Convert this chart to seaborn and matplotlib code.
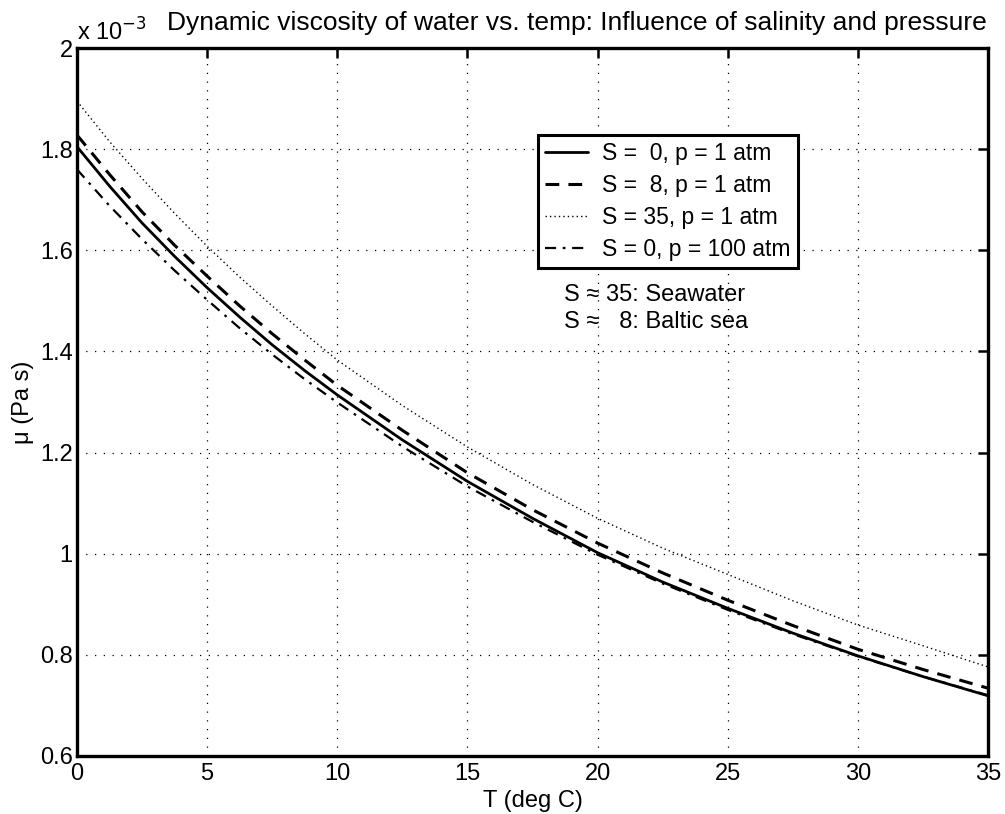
import matplotlib
matplotlib.use("Agg")
import matplotlib.pyplot as plt
import numpy as np
import pandas as pd
import seaborn as sns

# Temperatura (deg C) e viscosidade (x 1e-3 Pa s)
temp = [0, 1.25, 2.5, 3.75, 5, 6.25, 7.5, 8.75, 10, 12.5, 15, 17.5, 20, 22.5, 25, 27.5, 30, 32.5, 35]
mu_s0 = [1.805, 1.727, 1.654, 1.588, 1.526, 1.468, 1.413, 1.362, 1.314, 1.225, 1.143, 1.070, 1.002,
         0.944, 0.892, 0.843, 0.798, 0.757, 0.719]
mu_s8 = [1.828, 1.750, 1.676, 1.610, 1.549, 1.490, 1.435, 1.383, 1.333, 1.244, 1.160, 1.087, 1.021,
         0.962, 0.908, 0.858, 0.811, 0.771, 0.734]
mu_s35 = [1.895, 1.815, 1.742, 1.673, 1.608, 1.547, 1.490, 1.435, 1.383, 1.293, 1.211, 1.137, 1.070,
          1.011, 0.959, 0.907, 0.859, 0.818, 0.776]
mu_p100 = [1.760, 1.688, 1.622, 1.560, 1.502, 1.446, 1.394, 1.345, 1.299, 1.212, 1.133, 1.063, 0.998,
           0.941, 0.889, 0.841, 0.797, 0.757, 0.720]

labels = ["S =  0, p = 1 atm", "S =  8, p = 1 atm", "S = 35, p = 1 atm", "S = 0, p = 100 atm"]
series = [mu_s0, mu_s8, mu_s35, mu_p100]
estilos = [("-", 2.0), ((0, (4.5, 3)), 2.2), ((0, (1, 2.2)), 1.0), ((0, (5, 3, 1.2, 3)), 1.6)]

y_ticks = [0.6, 0.8, 1.0, 1.2, 1.4, 1.6, 1.8, 2.0]
x_ticks = [0, 5, 10, 15, 20, 25, 30, 35]

sns.set_style("white")
plt.rcParams["font.family"] = ["Liberation Sans", "DejaVu Sans"]
plt.rcParams["text.color"] = "black"
plt.rcParams["axes.labelcolor"] = "black"

fs = 17

fig = plt.figure(figsize=(10.05, 8.14), dpi=100)
ax = fig.add_axes([0.0766, 0.0713, 0.9065, 0.8697])

for lab, vals, (ls, lw) in zip(labels, series, estilos):
    df = pd.DataFrame({"T": temp, "mu": vals})
    sns.lineplot(data=df, x="T", y="mu", ax=ax, color="black", linestyle=ls,
                 linewidth=lw, label=lab)

ax.set_xlim(0, 35)
ax.set_ylim(0.6, 2.0)
ax.set_xticks(x_ticks)
ax.set_yticks(y_ticks)
ax.set_xticklabels([f"{v:g}" for v in x_ticks])
ax.set_yticklabels([f"{v:g}" for v in y_ticks])
ax.tick_params(direction="in", length=7, width=1.8, top=True, right=True,
               labelsize=fs, colors="black")
ax.tick_params(axis="x", pad=5)
ax.tick_params(axis="y", pad=3)
ax.grid(True, linestyle=(0, (1, 6)), color="black", linewidth=0.9)
for s in ax.spines.values():
    s.set_visible(True)
    s.set_color("black")
    s.set_linewidth(2.4)

ax.set_xlabel("T (deg C)", fontsize=fs, labelpad=4)
ax.set_ylabel("\u03bc (Pa s)", fontsize=fs, labelpad=4)
ax.text(0.0, 1.004, "x 10$^{-3}$", transform=ax.transAxes, fontsize=fs,
        ha="left", va="bottom")
ax.text(0.549, 1.018, "Dynamic viscosity of water vs. temp: Influence of salinity and pressure",
        transform=ax.transAxes, fontsize=19, ha="center", va="bottom")

leg = ax.legend(loc="upper left", bbox_to_anchor=(0.506, 0.877), fontsize=16.5,
                frameon=True, fancybox=False, edgecolor="black", framealpha=1,
                handlelength=1.9, borderpad=0.3, labelspacing=0.4, handletextpad=0.6,
                borderaxespad=0)
leg.get_frame().set_linewidth(2.2)

ax.text(18.7, 1.512, "S \u2248 35: Seawater", fontsize=fs, va="center")
ax.text(18.7, 1.458, "S \u2248   8: Baltic sea", fontsize=fs, va="center")

fig.savefig("out.png", dpi=100)
